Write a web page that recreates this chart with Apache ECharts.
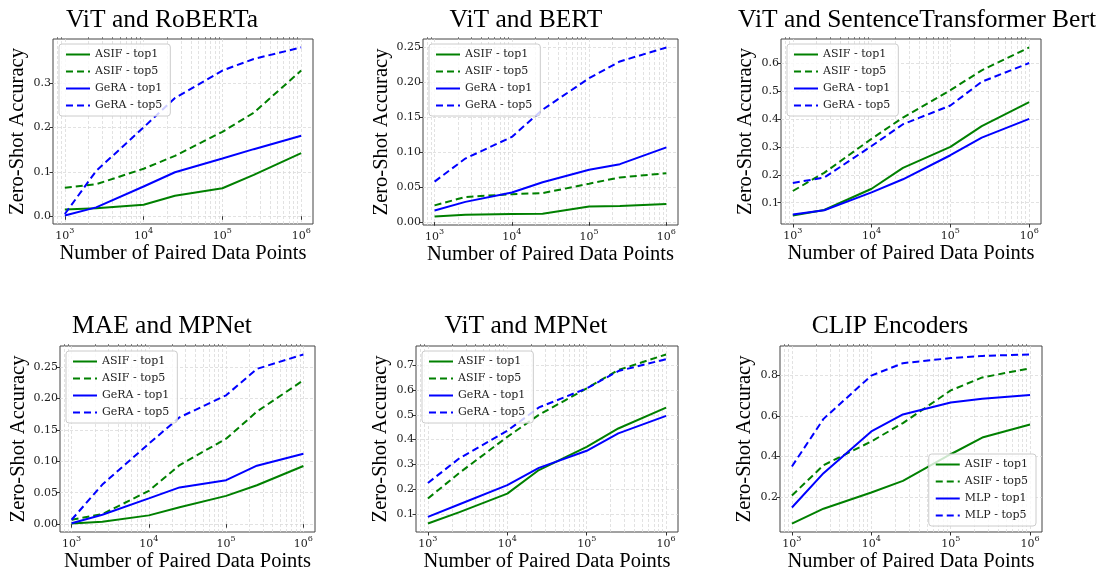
<!DOCTYPE html>
<html>
<head>
<meta charset="utf-8">
<script src="https://cdn.jsdelivr.net/npm/echarts@6/dist/echarts.min.js"></script>
<style>
  html, body { margin: 0; padding: 0; background: #fff; }
  #chart { width: 1108px; height: 573px; }
</style>
</head>
<body>
<div id="chart"></div>
<script>
// x positions shared by every panel
const pairedPoints = [1000, 2500, 10000, 25000, 100000, 250000, 1000000];
const xTickValues = [1000, 10000, 100000, 1000000];

const titles = ['ViT and RoBERTa', 'ViT and BERT', 'ViT and SentenceTransformer Bert',
                'MAE and MPNet', 'ViT and MPNet', 'CLIP Encoders'];
const geraNames = ['ASIF - top1', 'ASIF - top5', 'GeRA - top1', 'GeRA - top5'];
const mlpNames = ['ASIF - top1', 'ASIF - top5', 'MLP - top1', 'MLP - top5'];
const yTickSteps = [0.1, 0.05, 0.1, 0.05, 0.1, 0.2];

// ViT and RoBERTa
const robertaAsifTop1 = [0.015, 0.018, 0.026, 0.046, 0.063, 0.093, 0.142];
const robertaAsifTop5 = [0.064, 0.072, 0.107, 0.136, 0.190, 0.233, 0.328];
const robertaGeraTop1 = [0.0015, 0.020, 0.067, 0.099, 0.130, 0.151, 0.181];
const robertaGeraTop5 = [0.005, 0.102, 0.200, 0.266, 0.328, 0.354, 0.380];

// ViT and BERT
const bertAsifTop1 = [0.008, 0.0105, 0.0115, 0.012, 0.0224, 0.023, 0.026];
const bertAsifTop5 = [0.024, 0.036, 0.040, 0.0415, 0.055, 0.064, 0.070];
const bertGeraTop1 = [0.0167, 0.029, 0.0425, 0.057, 0.075, 0.083, 0.107];
const bertGeraTop5 = [0.058, 0.091, 0.122, 0.161, 0.206, 0.230, 0.250];

// ViT and SentenceTransformer Bert
const stAsifTop1 = [0.054, 0.074, 0.150, 0.225, 0.300, 0.374, 0.460];
const stAsifTop5 = [0.142, 0.207, 0.329, 0.405, 0.503, 0.574, 0.656];
const stGeraTop1 = [0.058, 0.073, 0.137, 0.184, 0.270, 0.333, 0.400];
const stGeraTop5 = [0.171, 0.190, 0.303, 0.381, 0.448, 0.533, 0.600];

// MAE and MPNet
const maeAsifTop1 = [0.001, 0.004, 0.014, 0.027, 0.045, 0.062, 0.0925];
const maeAsifTop5 = [0.007, 0.016, 0.053, 0.094, 0.136, 0.179, 0.229];
const maeGeraTop1 = [0.0016, 0.015, 0.041, 0.0585, 0.070, 0.093, 0.112];
const maeGeraTop5 = [0.007, 0.063, 0.128, 0.170, 0.205, 0.247, 0.270];

// ViT and MPNet
const mpnetAsifTop1 = [0.061, 0.107, 0.182, 0.277, 0.371, 0.445, 0.529];
const mpnetAsifTop5 = [0.162, 0.266, 0.411, 0.500, 0.607, 0.681, 0.744];
const mpnetGeraTop1 = [0.088, 0.139, 0.216, 0.286, 0.355, 0.425, 0.496];
const mpnetGeraTop5 = [0.225, 0.325, 0.436, 0.530, 0.607, 0.677, 0.725];

// CLIP Encoders
const clipAsifTop1 = [0.070, 0.143, 0.223, 0.280, 0.411, 0.493, 0.557];
const clipAsifTop5 = [0.208, 0.357, 0.474, 0.564, 0.725, 0.789, 0.834];
const clipMlpTop1 = [0.149, 0.318, 0.523, 0.607, 0.666, 0.684, 0.702];
const clipMlpTop5 = [0.351, 0.585, 0.798, 0.859, 0.884, 0.895, 0.902];

const panels = [
  { names: geraNames, values: [robertaAsifTop1, robertaAsifTop5, robertaGeraTop1, robertaGeraTop5] },
  { names: geraNames, values: [bertAsifTop1, bertAsifTop5, bertGeraTop1, bertGeraTop5] },
  { names: geraNames, values: [stAsifTop1, stAsifTop5, stGeraTop1, stGeraTop5] },
  { names: geraNames, values: [maeAsifTop1, maeAsifTop5, maeGeraTop1, maeGeraTop5] },
  { names: geraNames, values: [mpnetAsifTop1, mpnetAsifTop5, mpnetGeraTop1, mpnetGeraTop5] },
  { names: mlpNames, values: [clipAsifTop1, clipAsifTop5, clipMlpTop1, clipMlpTop5] }
];

// layout
const gridRects = [
  { left: 53, top: 39, width: 260, height: 185 },
  { left: 423, top: 39, width: 255, height: 186 },
  { left: 781, top: 39, width: 260, height: 185 },
  { left: 60, top: 346, width: 255, height: 186 },
  { left: 416, top: 346, width: 262, height: 186 },
  { left: 780, top: 346, width: 262, height: 186 }
];
const titlePos = [[162, 7], [526, 7], [917, 7], [162, 313], [526, 313], [890, 313]];

const lineColors = ['#008000', '#008000', '#0000ff', '#0000ff'];
const lineTypes = ['solid', [7, 4], 'solid', [7, 4]];

const serif = 'Liberation Serif';
const tickFont = 'DejaVu Serif';
const gridLine = { color: '#dadada', width: 0.8, type: [3, 2] };

// matplotlib style 5% margins on the log x range
const xMin = Math.pow(10, 2.85);
const xMax = Math.pow(10, 6.15);
const minorX = [];
for (let e = 2; e < 7; e++) {
  for (let m = 2; m < 10; m++) {
    const v = m * Math.pow(10, e);
    if (v > xMin && v < xMax) minorX.push(v);
  }
}

const chart = echarts.init(document.getElementById('chart'));
const option = {
  animation: false,
  backgroundColor: '#fff',
  title: [], grid: [], xAxis: [], yAxis: [], legend: [], series: []
};

panels.forEach((p, i) => {
  const r = gridRects[i];
  const step = yTickSteps[i];
  const dec = step < 0.1 ? 2 : 1;
  const all = [].concat(...p.values);
  const lo = Math.min(...all), hi = Math.max(...all);
  const yMin = lo - 0.05 * (hi - lo);
  const yMax = hi + 0.05 * (hi - lo);
  const yTicks = [];
  for (let k = Math.ceil(yMin / step); k * step <= yMax + 1e-9; k++) yTicks.push(+(k * step).toFixed(4));

  option.title.push({
    text: titles[i], left: titlePos[i][0], top: titlePos[i][1], textAlign: 'center', padding: 0,
    textStyle: { fontFamily: serif, fontSize: 25.5, fontWeight: 'normal', color: '#000' }
  });

  option.grid.push({
    left: r.left, top: r.top, width: r.width, height: r.height,
    show: true, borderColor: '#444', borderWidth: 1, backgroundColor: 'rgba(0,0,0,0)'
  });

  option.xAxis.push({
    type: 'log', logBase: 10, gridIndex: i, min: xMin, max: xMax,
    axisLine: { show: false },
    axisTick: { show: true, length: 3.5, lineStyle: { color: '#333' }, customValues: xTickValues },
    axisLabel: {
      customValues: xTickValues, margin: 3,
      formatter: v => {
        const e = Math.log10(v);
        return Math.abs(e - Math.round(e)) < 1e-6 ? '{b|10}{s|' + Math.round(e) + '}' : '';
      },
      rich: {
        b: { fontFamily: tickFont, fontSize: 11, color: '#222', lineHeight: 15, verticalAlign: 'bottom' },
        s: { fontFamily: tickFont, fontSize: 8, color: '#222', verticalAlign: 'top' }
      }
    },
    splitLine: { show: true, lineStyle: gridLine },
    name: 'Number of Paired Data Points', nameLocation: 'middle', nameGap: 19,
    nameTextStyle: { fontFamily: serif, fontSize: 20.5, color: '#000' }
  });
  // minor ticks only
  option.xAxis.push({
    type: 'log', logBase: 10, gridIndex: i, min: xMin, max: xMax,
    axisLine: { show: false },
    axisTick: { show: true, length: 2, lineStyle: { color: '#555', width: 0.7 }, customValues: minorX },
    axisLabel: { show: false }, splitLine: { show: false }
  });

  option.yAxis.push({
    type: 'value', gridIndex: i, min: yMin, max: yMax, minInterval: step, maxInterval: step,
    axisLine: { show: false },
    axisTick: { show: true, length: 3.5, lineStyle: { color: '#333' }, customValues: yTicks },
    axisLabel: {
      customValues: yTicks, margin: 2,
      fontFamily: tickFont, fontSize: 11, color: '#222',
      formatter: v => v.toFixed(dec)
    },
    splitLine: { show: true, lineStyle: gridLine },
    name: 'Zero-Shot Accuracy', nameLocation: 'middle', nameGap: 25, nameRotate: 90,
    nameTextStyle: { fontFamily: serif, fontSize: 20.5, color: '#000' }
  });

  const legend = {
    orient: 'vertical', data: p.names, selectedMode: false,
    itemWidth: 24, itemHeight: 12, itemGap: 6, padding: [5, 8, 5, 6],
    backgroundColor: 'rgba(255,255,255,0.8)', borderColor: '#cccccc', borderWidth: 1, borderRadius: 3,
    lineStyle: { width: 2 },
    itemStyle: { opacity: 0 },
    textStyle: { fontFamily: tickFont, fontSize: 11, color: '#222' }
  };
  if (i === 5) {
    legend.right = 1108 - (r.left + r.width) + 6;
    legend.bottom = 573 - (r.top + r.height) + 6;
  } else {
    legend.left = r.left + 6;
    legend.top = r.top + 5;
  }
  option.legend.push(legend);

  p.values.forEach((vals, s) => {
    const series = {
      type: 'line', name: p.names[s], xAxisIndex: 2 * i, yAxisIndex: i,
      data: pairedPoints.map((x, k) => [x, vals[k]]),
      symbol: 'none', silent: true, color: lineColors[s],
      lineStyle: { color: lineColors[s], width: 2, type: lineTypes[s] },
      z: 3
    };
    if (s === 0) {
      // minor x grid lines
      series.markLine = {
        silent: true, symbol: 'none', label: { show: false }, animation: false,
        lineStyle: gridLine, z: 1,
        data: minorX.map(v => ({ xAxis: v }))
      };
    }
    option.series.push(series);
  });
});

chart.setOption(option);
</script>
</body>
</html>
